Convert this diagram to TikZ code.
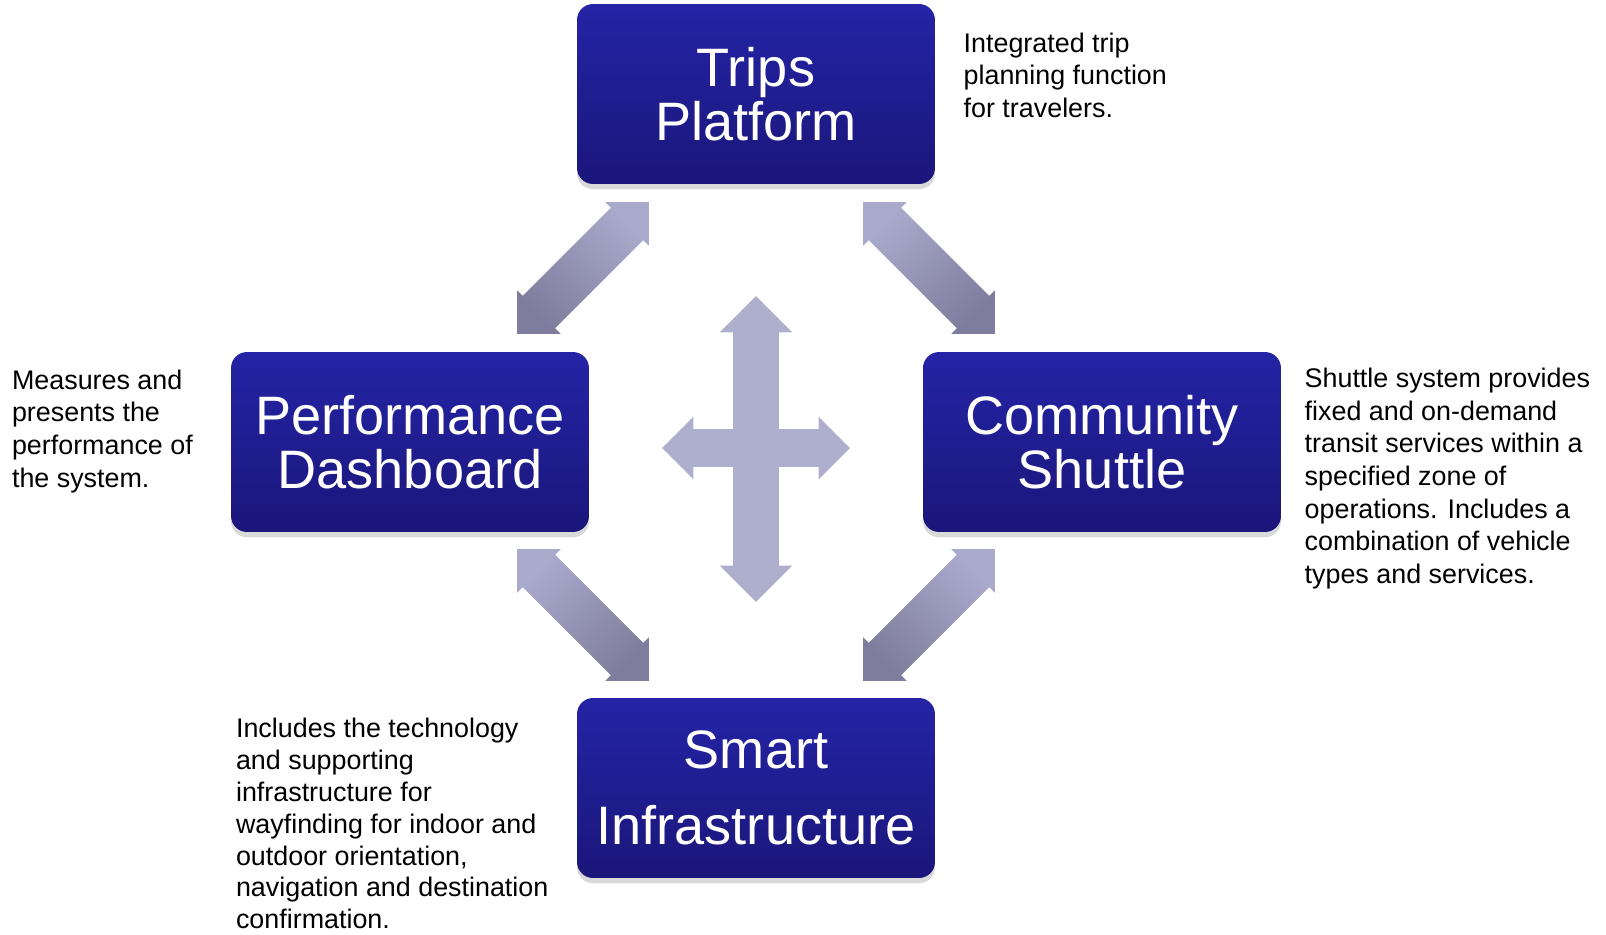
\documentclass[tikz,border=0pt]{standalone}
\usepackage{fontspec}
\setmainfont{Liberation Sans}
\usetikzlibrary{calc,positioning,shapes.arrows,shadows}

\definecolor{boxtop}{RGB}{36,36,166}
\definecolor{boxbot}{RGB}{27,22,122}
\definecolor{linktop}{RGB}{170,170,204}
\definecolor{linkbot}{RGB}{126,125,157}
\definecolor{hubfill}{RGB}{174,175,204}

\tikzset{
  block/.style={rectangle,rounded corners=0.32cm,minimum width=7.16cm,minimum height=3.6cm,
    top color=boxtop,bottom color=boxbot,text=white,align=center,
    font=\fontsize{30.8}{30.5}\selectfont,
    drop shadow={opacity=0.3,shadow xshift=0pt,shadow yshift=-3pt}},
  note/.style={align=left,inner sep=0pt,anchor=base west,font=\fontsize{15.3}{18.6}\selectfont},
  link/.style={double arrow,double arrow head extend=0.16cm,minimum height=3.73cm,
    inner xsep=0pt,inner ysep=0.45cm,top color=linktop,bottom color=linkbot},
  hub/.style={double arrow,inner xsep=0pt,fill=hubfill}
}

\begin{document}
\begin{tikzpicture}[x=0.02cm,y=-0.02cm]
	\useasboundingbox (0,0) rectangle (1606,934);
	% the four parts
	\node[block] (trips) at (756,94) {Trips\\Platform};
	\node[block] (perf) at (410,442) {Performance\\Dashboard};
	\node[block] (comm) at (1102,442) {Community\\Shuttle};
	\node[block,font=\fontsize{30.8}{43}\selectfont] (smart) at (756,788) {Smart\\Infrastructure};
	% links between them
	\node[link,rotate=45,shading angle=-45] (tp) at ($(trips.south west)!0.5!(perf.north east)$) {};
	\node[link,rotate=-45,shading angle=45] (tc) at ($(trips.south east)!0.5!(comm.north west)$) {};
	\node[link,rotate=-45,shading angle=45] (ps) at ($(perf.south east)!0.5!(smart.north west)$) {};
	\node[link,rotate=45,shading angle=-45] (cs) at ($(comm.south west)!0.5!(smart.north east)$) {};
	% cross in the middle
	\node[hub,rotate=90,minimum height=6.12cm,inner ysep=0.45cm,double arrow head extend=0.27cm] (hubv) at (756,449) {};
	\node[hub,minimum height=3.76cm,inner ysep=0.37cm,double arrow head extend=0.25cm] (hubh) at (756,448) {};
	% notes (anchored on their last line)
	\node[note] (tripsnote) at ($(trips.north east)+(28,114)$) {Integrated trip\\planning function\\for travelers.};
	\node[note] (perfnote) at ($(perf.north west)+(-219,135.4)$) {Measures and\\presents the\\performance of\\the system.};
	\node[note] (commnote) at ($(comm.north east)+(23,232)$) {Shuttle system provides\\fixed and on-demand\\transit services within a\\specified zone of\\operations. Includes a\\combination of vehicle\\types and services.};
	\node[note,font=\fontsize{15.3}{18.1}\selectfont] (smartnote) at ($(smart.north west)+(-341,231)$) {Includes the technology\\and supporting\\infrastructure for\\wayfinding for indoor and\\outdoor orientation,\\navigation and destination\\confirmation.};
\end{tikzpicture}
\end{document}
